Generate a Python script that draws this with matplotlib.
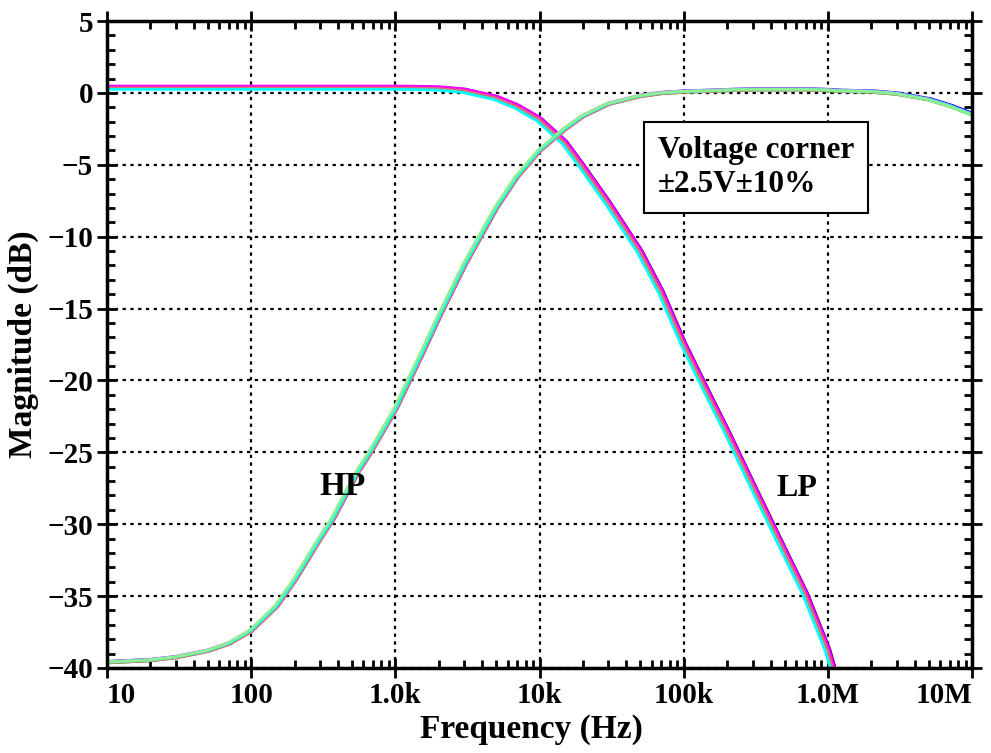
import matplotlib
matplotlib.use('Agg')
import matplotlib.pyplot as plt
from matplotlib.ticker import FixedLocator, LogLocator, MultipleLocator, NullFormatter
import numpy as np

plt.rcParams['font.family'] = ['Liberation Serif', 'DejaVu Serif']
plt.rcParams['font.weight'] = 'bold'

# frequency points (Hz)
freq = [10, 20, 30, 50, 70, 100, 150, 200, 300, 370, 545, 670, 1e3, 1.5e3, 2e3, 3e3, 5e3, 7e3,
        1e4, 1.5e4, 2e4, 3e4, 5e4, 7e4, 1e5, 1.5e5, 2e5, 3e5, 5e5, 7e5, 1e6, 1.2e6, 2e6, 3e6,
        5e6, 7e6, 1e7]

# low pass magnitude (dB)
lp_db = [0.4, 0.4, 0.4, 0.4, 0.4, 0.4, 0.4, 0.4, 0.4, 0.4, 0.4, 0.4, 0.4, 0.38, 0.35, 0.2, -0.3,
         -0.9, -1.8, -3.4, -5.1, -7.6, -11.0, -13.8, -17.4, -21.0, -23.5, -27.2, -31.8, -34.8,
         -38.7, -41.5, -50, -55, -60, -63, -66]

# high pass magnitude (dB)
hp_db = [-39.6, -39.45, -39.25, -38.8, -38.3, -37.4, -35.7, -33.9, -31.0, -29.6, -26.4, -25.0,
         -22.0, -18.3, -15.6, -12.0, -8.0, -5.8, -4.0, -2.5, -1.6, -0.75, -0.2, 0.0, 0.1, 0.15,
         0.2, 0.25, 0.25, 0.25, 0.2, 0.15, 0.1, -0.05, -0.45, -0.9, -1.5]

# corners: colour, gain offset (dB), frequency factor
lp_colors = ['#ff80c0', 'red', 'blue', '#00b000', '#c080ff', '#ffa060', 'magenta', '#e07070', 'cyan']
lp_offset = [0.05, 0.0, 0.05, -0.05, 0.0, 0.0, 0.08, -0.05, -0.15]
lp_factor = [1.01, 1.03, 1.02, 1.0, 0.99, 1.0, 1.01, 0.99, 0.96]

hp_colors = ['red', 'blue', '#00b000', 'magenta', '#c080ff', '#ffa060', '#e07070', 'cyan', '#90f090']
hp_offset = [0.0, 0.05, -0.05, 0.0, 0.05, 0.0, -0.05, 0.0, 0.0]
hp_factor = [1.02, 1.03, 1.0, 1.01, 0.99, 1.0, 1.02, 1.0, 0.97]

x_ticks = [10, 100, 1e3, 1e4, 1e5, 1e6, 1e7]
x_labels = ['10', '100', '1.0k', '10k', '100k', '1.0M', '10M']

fig = plt.figure(figsize=(9.91, 7.53), dpi=100)
ax = fig.add_axes([0.108, 0.113, 0.873, 0.859])

f = np.array(freq)
for c, o, k in zip(lp_colors, lp_offset, lp_factor):
    ax.plot(f * k, np.array(lp_db) + o, color=c, lw=2.0)
for c, o, k in zip(hp_colors, hp_offset, hp_factor):
    ax.plot(f * k, np.array(hp_db) + o, color=c, lw=2.0)

ax.set_xscale('log')
ax.set_xlim(10, 1e7)
ax.set_ylim(-40, 5)

ax.xaxis.set_major_locator(FixedLocator(x_ticks))
ax.set_xticklabels(x_labels)
ax.xaxis.set_minor_locator(LogLocator(base=10, subs=np.arange(2, 10), numticks=20))
ax.xaxis.set_minor_formatter(NullFormatter())
ax.yaxis.set_major_locator(MultipleLocator(5))
ax.yaxis.set_minor_locator(MultipleLocator(1))

ax.tick_params(which='major', direction='inout', length=14, width=2, labelsize=21,
               top=True, right=True, pad=3)
ax.tick_params(which='minor', direction='in', length=6, width=2, top=True, right=True)
xl = ax.get_xticklabels()
xl[0].set_horizontalalignment('left')
xl[-1].set_horizontalalignment('right')
for lab in xl + ax.get_yticklabels():
    lab.set_fontweight('bold')

for s in ax.spines.values():
    s.set_linewidth(2.5)

ax.grid(True, which='major', color='black', linestyle=(0, (1.5, 2)), linewidth=1.6)

ax.set_xlabel('Frequency (Hz)', fontsize=24, fontweight='bold')
ax.xaxis.set_label_coords(0.49, -0.072, transform=ax.transAxes)
ax.xaxis.label.set_va('top')
ax.set_ylabel('Magnitude (dB)', fontsize=24, fontweight='bold', labelpad=6)

ax.text(428, -27.4, 'HP', fontsize=24, fontweight='bold', ha='center', va='center')
ax.text(6.1e5, -27.5, 'LP', fontsize=23, fontweight='bold', ha='center', va='center')

ax.text(6.6e4, -5.2, 'Voltage corner\n\u00b12.5V\u00b110%', fontsize=22.5, fontweight='bold',
        ha='left', va='center', linespacing=1.2,
        bbox=dict(boxstyle='square,pad=0.45', facecolor='white', edgecolor='black', linewidth=1.5))

fig.savefig('out.png', dpi=100)
